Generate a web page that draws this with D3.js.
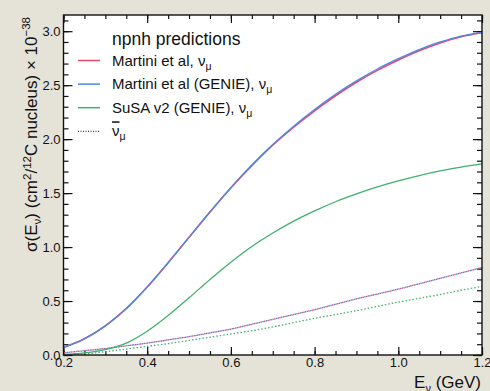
<!DOCTYPE html>
<html>
<head>
<meta charset="utf-8">
<script src="https://cdn.jsdelivr.net/npm/d3@7"></script>
<style>
  body { margin: 0; background: #e5e3d8; }
  svg { display: block; font-family: "Liberation Sans", Arial, sans-serif; }
</style>
</head>
<body>
<svg id="chart"></svg>
<script>
// energies (GeV) and cross sections (x 1e-38 cm^2 per 12C nucleus)
const energies = [0.20, 0.25, 0.30, 0.35, 0.40, 0.45, 0.50, 0.55, 0.60, 0.65, 0.70,
                  0.75, 0.80, 0.85, 0.90, 0.95, 1.00, 1.05, 1.10, 1.15, 1.20];
const martiniNu = [0.07, 0.15, 0.27, 0.43, 0.63, 0.855, 1.09, 1.325, 1.55, 1.755, 1.943,
                   2.11, 2.263, 2.402, 2.527, 2.637, 2.733, 2.818, 2.89, 2.948, 2.985];
const martiniGenieNu = [0.07, 0.15, 0.27, 0.43, 0.63, 0.855, 1.09, 1.325, 1.55, 1.76, 1.95,
                        2.12, 2.275, 2.415, 2.54, 2.65, 2.745, 2.83, 2.90, 2.955, 2.99];
const susaNu = [0.005, 0.02, 0.05, 0.11, 0.22, 0.365, 0.53, 0.70, 0.86, 1.005, 1.13,
                1.24, 1.335, 1.42, 1.493, 1.558, 1.613, 1.662, 1.705, 1.74, 1.77];
const martiniNuBar = [0.02, 0.04, 0.06, 0.085, 0.11, 0.14, 0.17, 0.205, 0.24, 0.285, 0.33,
                      0.375, 0.42, 0.47, 0.52, 0.565, 0.61, 0.66, 0.71, 0.76, 0.81];
const susaNuBar = [0.0, 0.01, 0.03, 0.055, 0.08, 0.105, 0.135, 0.165, 0.195, 0.225, 0.26,
                   0.30, 0.34, 0.375, 0.41, 0.45, 0.49, 0.525, 0.56, 0.60, 0.635];

const xTicks = [0.2, 0.4, 0.6, 0.8, 1.0, 1.2];
const yTicks = [0.0, 0.5, 1.0, 1.5, 2.0, 2.5, 3.0];

const width = 490, height = 391;
const margin = { top: 15, right: 8, bottom: 36, left: 63.5 };
const w = width - margin.left - margin.right;
const h = height - margin.top - margin.bottom;

const svg = d3.select("#chart").attr("width", width).attr("height", height);

const x = d3.scaleLinear().domain([0.2, 1.2]).range([0, w]);
const y = d3.scaleLinear().domain([0, 3.15]).range([h, 0]);

const g = svg.append("g").attr("transform", `translate(${margin.left},${margin.top})`);

g.append("rect").attr("width", w).attr("height", h).attr("fill", "white");

// minor ticks
const xMinor = d3.range(0.2, 1.2001, 0.05);
const yMinor = d3.range(0, 3.1501, 0.1);

function ticks(axis, vals, size, fmt) {
    return axis.tickValues(vals).tickSize(size).tickFormat(fmt);
}

g.append("g").attr("transform", `translate(0,${h})`)
    .call(ticks(d3.axisBottom(x), xMinor, -4, ""));
g.append("g").attr("transform", `translate(0,${h})`)
    .call(ticks(d3.axisBottom(x), xTicks, -8, d3.format(".1f")));
g.append("g").call(ticks(d3.axisTop(x), xMinor, -4, ""));
g.append("g").call(ticks(d3.axisTop(x), xTicks, -8, ""));

g.append("g").call(ticks(d3.axisLeft(y), yMinor, -5, ""));
g.append("g").call(ticks(d3.axisLeft(y), yTicks, -9, d3.format(".1f")));
g.append("g").attr("transform", `translate(${w},0)`)
    .call(ticks(d3.axisRight(y), yMinor, -5, ""));
g.append("g").attr("transform", `translate(${w},0)`)
    .call(ticks(d3.axisRight(y), yTicks, -9, ""));

g.selectAll(".domain").remove();
g.selectAll(".tick line").attr("stroke", "#111").attr("stroke-width", 1.2);
g.selectAll(".tick text").attr("font-size", 13).attr("fill", "#111")
    .attr("font-family", "Liberation Sans, Arial, sans-serif");

// curves
const line = d3.line()
    .x((d, i) => x(energies[i]))
    .y(d => y(d))
    .curve(d3.curveMonotoneX);

const red = "#e84a6c", blue = "#4a88e6", green = "#3fb06e";

const series = [
    { v: susaNuBar, color: green, dash: "1.5,2", width: 1.3 },
    { v: martiniNuBar, color: red, dash: "1.5,2", width: 1.3 },
    { v: martiniNuBar, color: blue, dash: "1.5,2", width: 1.3, offset: 1.7 },
    { v: susaNu, color: green, dash: null, width: 1.3 },
    { v: martiniNu, color: red, dash: null, width: 1.6 },
    { v: martiniGenieNu, color: blue, dash: null, width: 1.3 }
];

series.forEach(s => {
    g.append("path")
        .datum(s.v)
        .attr("fill", "none")
        .attr("stroke", s.color)
        .attr("stroke-width", s.width)
        .attr("stroke-dasharray", s.dash)
        .attr("stroke-dashoffset", s.offset || 0)
        .attr("d", line);
});

// frame
g.append("rect").attr("width", w).attr("height", h)
    .attr("fill", "none").attr("stroke", "#111").attr("stroke-width", 1.4);

// legend
const leg = svg.append("g");
leg.append("text").attr("x", 112).attr("y", 45).attr("font-size", 17.5).attr("fill", "#111")
    .text("npnh predictions");

const entries = [
    { color: red, dash: null, label: "Martini et al, " },
    { color: blue, dash: null, label: "Martini et al (GENIE), " },
    { color: green, dash: null, label: "SuSA v2 (GENIE), " },
    { color: "#111", dash: "1,1.5", label: "", bar: true }
];
entries.forEach((e, i) => {
    const yy = 60.5 + i * 23.6;
    leg.append("line").attr("x1", 78).attr("x2", 100).attr("y1", yy).attr("y2", yy)
        .attr("stroke", e.color).attr("stroke-width", e.dash ? 1 : 1.5)
        .attr("stroke-dasharray", e.dash);
    const t = leg.append("text").attr("x", 112).attr("y", yy + 5)
        .attr("font-size", 15).attr("fill", "#111");
    t.append("tspan").text(e.label);
    t.append("tspan").text("\u03bd").attr("text-decoration", e.bar ? "overline" : null);
    t.append("tspan").text("\u03bc").attr("font-size", 10.5).attr("dy", 4);
});

// axis titles
const yt = svg.append("text")
    .attr("transform", "translate(37,17) rotate(-90)")
    .attr("text-anchor", "end").attr("font-size", 17).attr("fill", "#111");
yt.append("tspan").text("\u03c3(E");
yt.append("tspan").text("\u03bd").attr("font-size", 11.5).attr("dy", 4);
yt.append("tspan").text(") (cm").attr("dy", -4);
yt.append("tspan").text("2").attr("font-size", 11.5).attr("dy", -6);
yt.append("tspan").text("/").attr("dy", 6);
yt.append("tspan").text("12").attr("font-size", 11.5).attr("dy", -6);
yt.append("tspan").text("C nucleus) \u00d7 10").attr("dy", 6);
yt.append("tspan").text("\u221238").attr("font-size", 11.5).attr("dy", -7);

const xt = svg.append("text")
    .attr("x", 481).attr("y", 388)
    .attr("text-anchor", "end").attr("font-size", 17).attr("fill", "#111");
xt.append("tspan").text("E");
xt.append("tspan").text("\u03bd").attr("font-size", 11).attr("dy", 4);
xt.append("tspan").text(" (GeV)").attr("dy", -4);
</script>
</body>
</html>
